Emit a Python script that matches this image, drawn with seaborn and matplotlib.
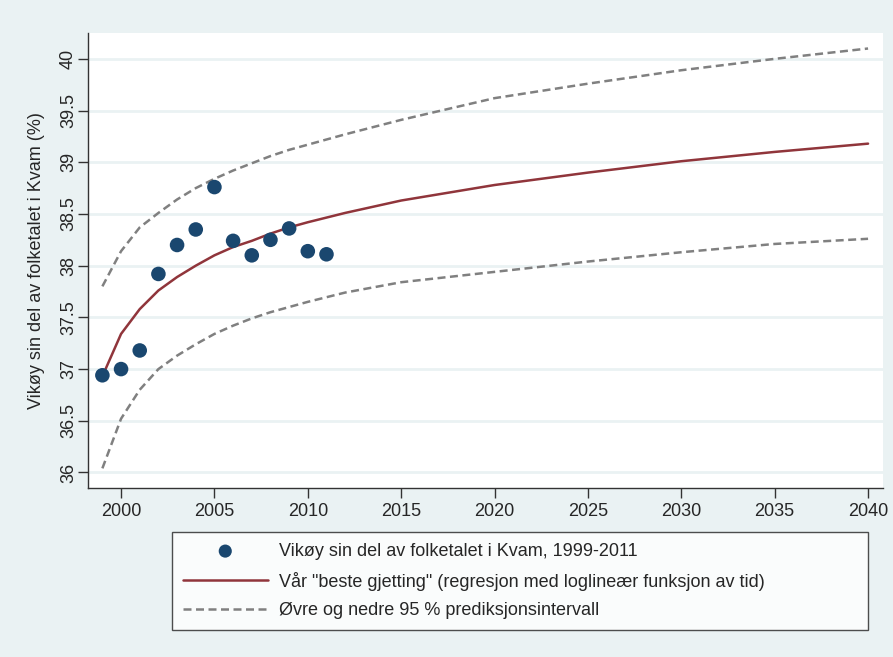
import numpy as np
import pandas as pd
import matplotlib
matplotlib.use('Agg')
import matplotlib.pyplot as plt
import seaborn as sns

# observed share (%) 1999-2011
obs_years = [1999, 2000, 2001, 2002, 2003, 2004, 2005, 2006, 2007, 2008, 2009, 2010, 2011]
obs_share = [36.94, 37.00, 37.18, 37.92, 38.20, 38.35, 38.76, 38.24, 38.10, 38.25, 38.36, 38.14, 38.11]

# fitted loglinear curve and 95 % prediction band
fit_years = [1999, 2000, 2001, 2002, 2003, 2004, 2005, 2006, 2007, 2008, 2009, 2010,
             2012, 2015, 2020, 2025, 2030, 2035, 2040]
fit_share = [36.93, 37.34, 37.58, 37.76, 37.89, 38.00, 38.10, 38.18, 38.24, 38.31, 38.37, 38.42,
             38.51, 38.63, 38.78, 38.90, 39.01, 39.10, 39.18]
upper_share = [37.80, 38.14, 38.37, 38.51, 38.64, 38.75, 38.84, 38.92, 38.99, 39.06, 39.12, 39.17,
               39.27, 39.41, 39.62, 39.76, 39.89, 40.00, 40.10]
lower_share = [36.04, 36.52, 36.80, 37.00, 37.13, 37.24, 37.34, 37.42, 37.49, 37.55, 37.60, 37.65,
               37.74, 37.84, 37.94, 38.04, 38.13, 38.21, 38.26]

x_ticks = [2000, 2005, 2010, 2015, 2020, 2025, 2030, 2035, 2040]
y_ticks = [36, 36.5, 37, 37.5, 38, 38.5, 39, 39.5, 40]
y_tick_labels = ['36', '36.5', '37', '37.5', '38', '38.5', '39', '39.5', '40']

label_obs = 'Vikøy sin del av folketalet i Kvam, 1999-2011'
label_fit = 'Vår "beste gjetting" (regresjon med loglineær funksjon av tid)'
label_band = 'Øvre og nedre 95 % prediksjonsintervall'
y_label = 'Vikøy sin del av folketalet i Kvam (%)'

BG = '#EAF2F3'
NAVY = '#1A476F'
MAROON = '#90353B'
GREY = '#808080'
DASH = (0, (3.2, 1.8))

sns.set_style('white')
plt.rcParams['font.family'] = ['Liberation Sans', 'DejaVu Sans']

obs = pd.DataFrame({'year': obs_years, 'share': obs_share})
fit = pd.DataFrame({'year': fit_years, 'fit': fit_share, 'upper': upper_share, 'lower': lower_share})

fig = plt.figure(figsize=(8.93, 6.57), dpi=100, facecolor=BG)
ax = fig.add_axes([88 / 893, 1 - 488 / 657, 795 / 893, 455 / 657])
ax.set_facecolor('white')

sns.lineplot(data=fit, x='year', y='upper', ax=ax, color=GREY, lw=1.8,
             linestyle=DASH, label=label_band, zorder=2)
sns.lineplot(data=fit, x='year', y='lower', ax=ax, color=GREY, lw=1.8,
             linestyle=DASH, label='_nolegend_', zorder=2)
sns.lineplot(data=fit, x='year', y='fit', ax=ax, color=MAROON, lw=1.8,
             label=label_fit, zorder=3)
sns.scatterplot(data=obs, x='year', y='share', ax=ax, color=NAVY, s=110,
                edgecolor='none', label=label_obs, zorder=4)

ax.set_xlim(1998.23, 2040.8)
ax.set_ylim(35.85, 40.25)
ax.set_xticks(x_ticks)
ax.set_yticks(y_ticks)
ax.set_yticklabels(y_tick_labels, rotation=90, va='center')
ax.tick_params(axis='both', direction='out', length=7, width=1, color='#333333',
               labelsize=13, left=True, bottom=True)
ax.tick_params(axis='y', pad=1)
ax.tick_params(axis='x', pad=4)
ax.grid(axis='y', color=BG, lw=2)
ax.grid(axis='x', visible=False)
for side in ['top', 'right']:
    ax.spines[side].set_visible(False)
for side in ['left', 'bottom']:
    ax.spines[side].set_color('#333333')
    ax.spines[side].set_linewidth(1)
ax.set_xlabel('')
ax.set_ylabel(y_label, fontsize=13, labelpad=11)

# legend in Stata order: points, fit, band
handles, labels = ax.get_legend_handles_labels()
order = [labels.index(label_obs), labels.index(label_fit), labels.index(label_band)]
ax.get_legend().remove()
leg = fig.legend([handles[i] for i in order], [labels[i] for i in order],
                 loc='upper left', bbox_to_anchor=(172 / 893, 25 / 657, 696 / 893, 100 / 657),
                 mode='expand', borderaxespad=0, fontsize=13, frameon=True, fancybox=False,
                 edgecolor='#222222', handlelength=4.7, handletextpad=0.65,
                 labelspacing=0.65, borderpad=0.6, markerscale=0.9)
leg.get_frame().set_linewidth(1)
leg.get_frame().set_facecolor('white')

fig.savefig('out.png', dpi=100, facecolor=BG)
